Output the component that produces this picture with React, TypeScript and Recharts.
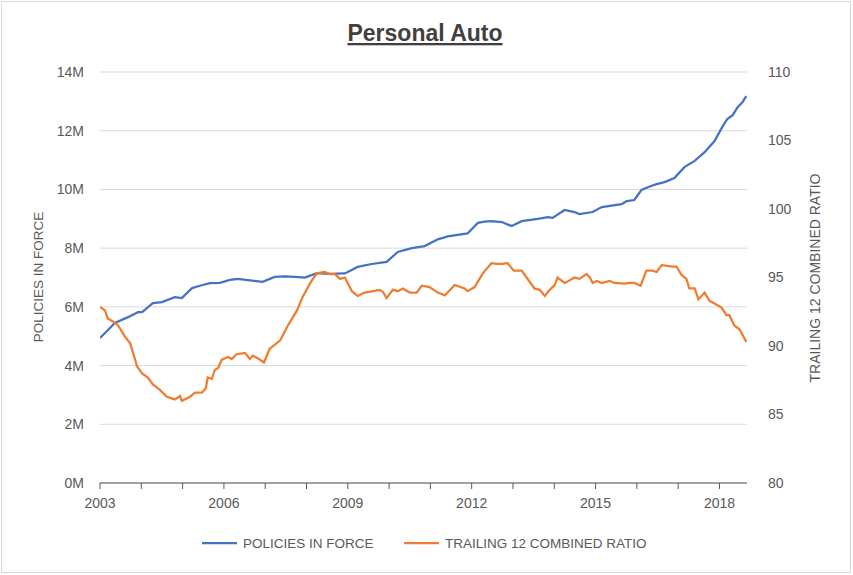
import React from 'react';
import { LineChart, Line, XAxis, YAxis, CartesianGrid } from 'recharts';

// Policies in force (millions) – decimal year / value
const policyYears = [
  2003.0, 2003.17, 2003.36, 2003.68, 2003.92, 2004.02, 2004.28, 2004.5, 2004.81, 2004.98,
  2005.23, 2005.42, 2005.66, 2005.9, 2006.15, 2006.34, 2006.63, 2006.94, 2007.23, 2007.48,
  2007.72, 2007.96, 2008.25, 2008.56, 2008.93, 2009.24, 2009.58, 2009.94, 2010.21, 2010.55,
  2010.86, 2011.18, 2011.42, 2011.66, 2011.9, 2012.15, 2012.31, 2012.48, 2012.73, 2012.97,
  2013.21, 2013.6, 2013.84, 2013.96, 2014.25, 2014.49, 2014.61, 2014.93, 2015.15, 2015.39,
  2015.63, 2015.75, 2015.94, 2016.11, 2016.31, 2016.48, 2016.67, 2016.91, 2017.15, 2017.4,
  2017.64, 2017.88, 2018.07, 2018.19, 2018.32, 2018.44, 2018.56, 2018.65,
];
const policyValues = [
  4.94, 5.18, 5.45, 5.65, 5.82, 5.82, 6.13, 6.16, 6.33, 6.3,
  6.64, 6.72, 6.81, 6.82, 6.92, 6.95, 6.9, 6.85, 7.02, 7.04,
  7.02, 7.0, 7.15, 7.12, 7.14, 7.36, 7.46, 7.53, 7.87, 8.0,
  8.07, 8.3, 8.4, 8.45, 8.5, 8.86, 8.9, 8.92, 8.89, 8.75,
  8.92, 9.0, 9.06, 9.03, 9.3, 9.23, 9.16, 9.23, 9.4, 9.45,
  9.5, 9.6, 9.64, 9.98, 10.1, 10.18, 10.25, 10.39, 10.76, 10.97,
  11.27, 11.65, 12.13, 12.4, 12.53, 12.8, 12.98, 13.18,
];

// Trailing 12 combined ratio – decimal year / value
const ratioYears = [
  2003.0, 2003.12, 2003.19, 2003.31, 2003.44, 2003.6, 2003.73, 2003.8, 2003.9, 2004.02,
  2004.16, 2004.28, 2004.45, 2004.62, 2004.81, 2004.94, 2004.98, 2005.18, 2005.3, 2005.47,
  2005.56, 2005.61, 2005.71, 2005.78, 2005.86, 2005.95, 2006.1, 2006.19, 2006.31, 2006.51,
  2006.63, 2006.7, 2006.82, 2006.97, 2007.11, 2007.36, 2007.55, 2007.77, 2007.91, 2008.11,
  2008.25, 2008.44, 2008.56, 2008.69, 2008.81, 2008.93, 2009.1, 2009.24, 2009.41, 2009.61,
  2009.77, 2009.85, 2009.94, 2010.09, 2010.21, 2010.33, 2010.5, 2010.67, 2010.79, 2010.98,
  2011.18, 2011.35, 2011.59, 2011.83, 2011.9, 2012.07, 2012.27, 2012.48, 2012.61, 2012.73,
  2012.87, 2013.02, 2013.21, 2013.33, 2013.52, 2013.65, 2013.77, 2013.89, 2014.01, 2014.08,
  2014.25, 2014.32, 2014.49, 2014.61, 2014.78, 2014.86, 2014.93, 2015.03, 2015.15, 2015.34,
  2015.46, 2015.7, 2015.82, 2015.94, 2016.09, 2016.23, 2016.38, 2016.48, 2016.6, 2016.74,
  2016.86, 2016.96, 2017.08, 2017.2, 2017.27, 2017.4, 2017.49, 2017.64, 2017.76, 2017.88,
  2018.05, 2018.17, 2018.24, 2018.36, 2018.49, 2018.65,
];
const ratioValues = [
  92.85, 92.6, 92.0, 91.8, 91.5, 90.7, 90.2, 89.5, 88.5, 88.0,
  87.7, 87.2, 86.8, 86.3, 86.1, 86.35, 86.0, 86.3, 86.6, 86.6,
  86.9, 87.7, 87.6, 88.25, 88.4, 89.0, 89.2, 89.05, 89.4, 89.5,
  89.05, 89.3, 89.1, 88.8, 89.8, 90.4, 91.5, 92.6, 93.6, 94.7,
  95.3, 95.4, 95.25, 95.25, 94.9, 95.0, 94.0, 93.65, 93.9, 94.0,
  94.1, 93.95, 93.5, 94.1, 94.0, 94.2, 93.9, 93.9, 94.4, 94.3,
  93.9, 93.7, 94.45, 94.2, 94.0, 94.3, 95.3, 96.05, 96.0, 96.0,
  96.05, 95.5, 95.5, 95.0, 94.2, 94.1, 93.65, 94.1, 94.45, 95.0,
  94.6, 94.7, 95.0, 94.9, 95.25, 95.0, 94.6, 94.75, 94.6, 94.75,
  94.6, 94.55, 94.6, 94.6, 94.4, 95.5, 95.5, 95.4, 95.9, 95.85,
  95.8, 95.8, 95.2, 94.9, 94.2, 94.2, 93.4, 93.9, 93.3, 93.1,
  92.8, 92.25, 92.25, 91.5, 91.2, 90.3,
];

const yearTicks = [2003, 2004, 2005, 2006, 2007, 2008, 2009, 2010, 2011, 2012, 2013, 2014, 2015, 2016, 2017, 2018];
const leftTicks = [0, 2, 4, 6, 8, 10, 12, 14];
const rightTicks = [80, 85, 90, 95, 100, 105, 110];

const policyData = policyYears.map((t, i) => ({ t, v: policyValues[i] }));
const ratioData = ratioYears.map((t, i) => ({ t, v: ratioValues[i] }));

const FONT = '"Liberation Sans", Arial, sans-serif';
const TEXT = '#595959';

const XTick = (props: any) => {
  const { x, y, payload } = props;
  const v = payload.value;
  if ((v - 2003) % 3 !== 0) return null;
  return (
    <text x={x} y={y} dy={15} textAnchor="middle" fill={TEXT} fontSize={14} fontFamily={FONT}>
      {v}
    </text>
  );
};

export default function App() {
  return (
    <div style={{ position: 'absolute', left: 0, top: 0, width: 853, height: 575, background: '#fff' }}>
      <div style={{ position: 'absolute', left: 1, top: 1, width: 848, height: 570, border: '1px solid #d9d9d9' }} />
      <LineChart
        width={853}
        height={575}
        margin={{ top: 72, right: 0, left: 0, bottom: 62 }}
        style={{ position: 'absolute', left: 0, top: 0 }}
      >
        <CartesianGrid vertical={false} stroke="#d9d9d9" yAxisId="left" />
        <XAxis
          type="number"
          dataKey="t"
          domain={[2003, 2018.667]}
          ticks={yearTicks}
          allowDataOverflow
          height={30}
          axisLine={{ stroke: '#595959' }}
          tickLine={{ stroke: '#595959' }}
          tickSize={6}
          tickMargin={4}
          tick={<XTick />}
          interval={0}
        />
        <YAxis
          yAxisId="left"
          orientation="left"
          width={100}
          domain={[0, 14]}
          ticks={leftTicks}
          axisLine={false}
          tickLine={false}
          tickMargin={10}
          tickFormatter={(v: number) => `${v}M`}
          tick={{ fill: TEXT, fontSize: 14, fontFamily: FONT }}
        />
        <YAxis
          yAxisId="right"
          orientation="right"
          width={106}
          domain={[80, 110]}
          ticks={rightTicks}
          axisLine={false}
          tickLine={false}
          tickMargin={15}
          tick={{ fill: TEXT, fontSize: 14, fontFamily: FONT }}
        />
        <Line
          yAxisId="left"
          data={policyData}
          dataKey="v"
          type="linear"
          stroke="#4472C4"
          strokeWidth={2.25}
          dot={false}
          isAnimationActive={false}
        />
        <Line
          yAxisId="right"
          data={ratioData}
          dataKey="v"
          type="linear"
          stroke="#ED7D31"
          strokeWidth={2.25}
          dot={false}
          isAnimationActive={false}
        />
      </LineChart>
      <svg width={853} height={575} style={{ position: 'absolute', left: 0, top: 0, pointerEvents: 'none' }}>
        <text x={425} y={41} textAnchor="middle" fontFamily={FONT} fontWeight="bold" fontSize={23} fill="#404040" textDecoration="underline">
          Personal Auto
        </text>
        <text transform="translate(43,277) rotate(-90)" textAnchor="middle" fontFamily={FONT} fontSize={13.5} fill={TEXT}>
          POLICIES IN FORCE
        </text>
        <text transform="translate(820,278) rotate(-90)" textAnchor="middle" fontFamily={FONT} fontSize={14} fill={TEXT}>
          TRAILING 12 COMBINED RATIO
        </text>
        <line x1={202} y1={543} x2={237} y2={543} stroke="#4472C4" strokeWidth={2.25} />
        <text x={243} y={548} fontFamily={FONT} fontSize={13.5} fill={TEXT}>POLICIES IN FORCE</text>
        <line x1={404} y1={543} x2={439} y2={543} stroke="#ED7D31" strokeWidth={2.25} />
        <text x={445} y={548} fontFamily={FONT} fontSize={13.5} fill={TEXT}>TRAILING 12 COMBINED RATIO</text>
      </svg>
    </div>
  );
}
